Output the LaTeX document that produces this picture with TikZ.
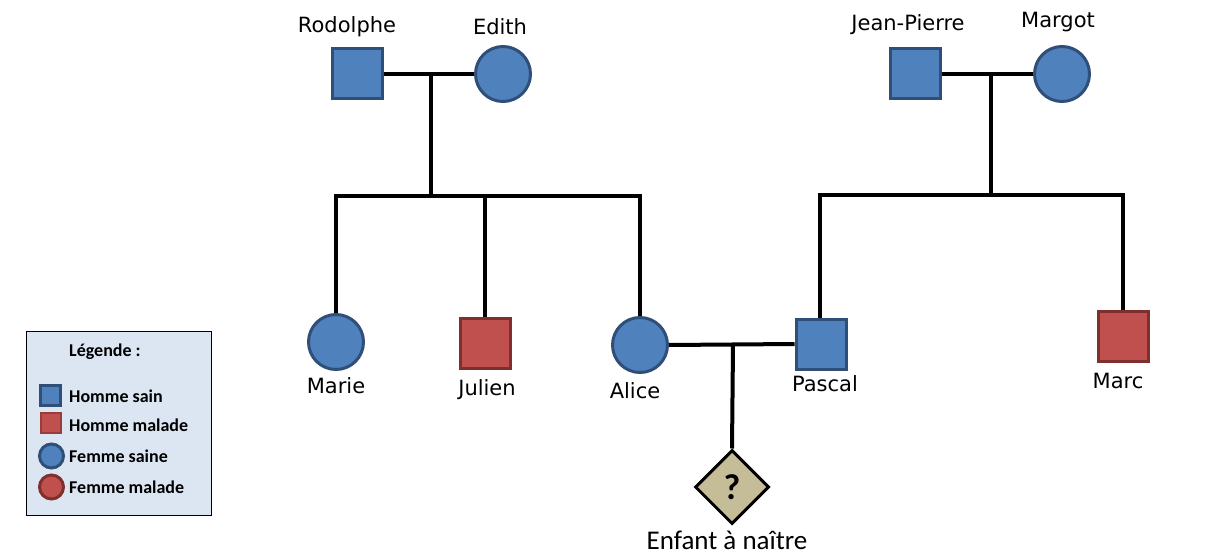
\documentclass[tikz,border=0pt]{standalone}
\usepackage{fontspec}
\setmainfont{DejaVu Sans}
\newfontfamily\calfont{Carlito}
\usetikzlibrary{shapes.geometric}
\definecolor{bfill}{HTML}{4F81BD}
\definecolor{bline}{HTML}{2F4F78}
\definecolor{rfill}{HTML}{C0504D}
\definecolor{rline}{HTML}{7F2F2D}
\definecolor{tanfill}{HTML}{C4BD97}
\definecolor{legfill}{HTML}{DCE6F2}
\tikzset{
  pmale/.style={rectangle,draw=bline,fill=bfill,line width=3pt,minimum size=50pt,inner sep=0pt},
  pfemale/.style={circle,draw=bline,fill=bfill,line width=3pt,minimum size=55pt,inner sep=0pt},
  psick/.style={draw=rline,fill=rfill},
  plabel/.style={font=\fontsize{21}{25}\selectfont,inner sep=0pt},
  conn/.style={line width=4pt,black},
  lmale/.style={rectangle,draw=bline,fill=bfill,line width=3pt,minimum size=20pt,inner sep=0pt},
  lfemale/.style={circle,draw=bline,fill=bfill,line width=3pt,minimum size=24pt,inner sep=0pt},
  ltext/.style={font=\calfont\bfseries\fontsize{18}{21}\selectfont,anchor=west,inner sep=0pt}
}
\begin{document}
\begin{tikzpicture}[x=1pt,y=-1pt]
\useasboundingbox (0,0) rectangle (1212,556);
% persons
\node[pmale] (rod) at (357,74) {};
\node[pfemale] (edi) at (503,74) {};
\node[pmale] (jp) at (915,74) {};
\node[pfemale] (mar) at (1062,74) {};
\node[pfemale] (marie) at (336,342) {};
\node[pmale,psick] (jul) at (485,343) {};
\node[pfemale] (ali) at (640,345) {};
\node[pmale] (pas) at (821,344) {};
\node[pmale,psick] (marc) at (1123,336) {};
\node[diamond,draw=black,fill=tanfill,line width=3pt,minimum size=74pt,inner sep=0pt,font=\calfont\bfseries\fontsize{36}{40}\selectfont] (enf) at (732,487) {?};
% labels
\node[plabel] (lrod) at (347,27) {Rodolphe};
\node[plabel] (ledi) at (500,27) {Edith};
\node[plabel] (ljp) at (908,25) {Jean-Pierre};
\node[plabel] (lmar) at (1058,22) {Margot};
\node[plabel] (lmarie) at (336,386) {Marie};
\node[plabel] (ljul) at (487,390) {Julien};
\node[plabel] (lali) at (635,391) {Alice};
\node[plabel] (lpas) at (825,384) {Pascal};
\node[plabel] (lmarc) at (1118,381) {Marc};
\node[font=\calfont\fontsize{27}{31}\selectfont,inner sep=0pt] (lenf) at (727,540) {Enfant à naître};
% connectors
\coordinate (c1) at (431,74);
\coordinate (b1) at (431,196);
\coordinate (c2) at (991,74);
\coordinate (b2) at (991,195);
\coordinate (c3) at (733,345);
\draw[conn] (rod.east) -- (edi.west);
\draw[conn] (c1) -- (b1);
\draw[conn] ([xshift=-2pt]marie.north |- b1) -- ([xshift=2pt]ali.north |- b1);
\draw[conn] (marie |- b1) -- (marie.north);
\draw[conn] (jul |- b1) -- (jul.north);
\draw[conn] (ali |- b1) -- (ali.north);
\draw[conn] (jp.east) -- (mar.west);
\draw[conn] (c2) -- (b2);
\draw[conn] ([xshift=-3pt]pas.north |- b2) -- ([xshift=2pt]marc.north |- b2);
\draw[conn] ([xshift=-1pt]pas.north |- b2) -- ([xshift=-1pt]pas.north);
\draw[conn] (marc |- b2) -- (marc.north);
\draw[conn] (ali.east) -- (pas.west);
\draw[conn] (c3) -- (enf.north);
% legend
\node[draw=black,fill=legfill,line width=1pt,minimum width=185pt,minimum height=184pt,inner sep=0pt] (leg) at (118.5,423) {};
\node[ltext] (ltitle) at (69,352) {Légende :};
\node[lmale] (lg1) at (50.5,395) {};
\node[lmale,draw=rline!60!rfill,fill=rfill,line width=2.5pt] (lg2) at (51,423) {};
\node[lfemale] (lg3) at (51.5,456) {};
\node[lfemale,draw=rline,fill=rfill] (lg4) at (51.5,487) {};
\node[ltext] (t1) at (69,396) {Homme sain};
\node[ltext] (t2) at (69,425) {Homme malade};
\node[ltext] (t3) at (69,456.5) {Femme saine};
\node[ltext] (t4) at (69,487.5) {Femme malade};
\end{tikzpicture}
\end{document}
